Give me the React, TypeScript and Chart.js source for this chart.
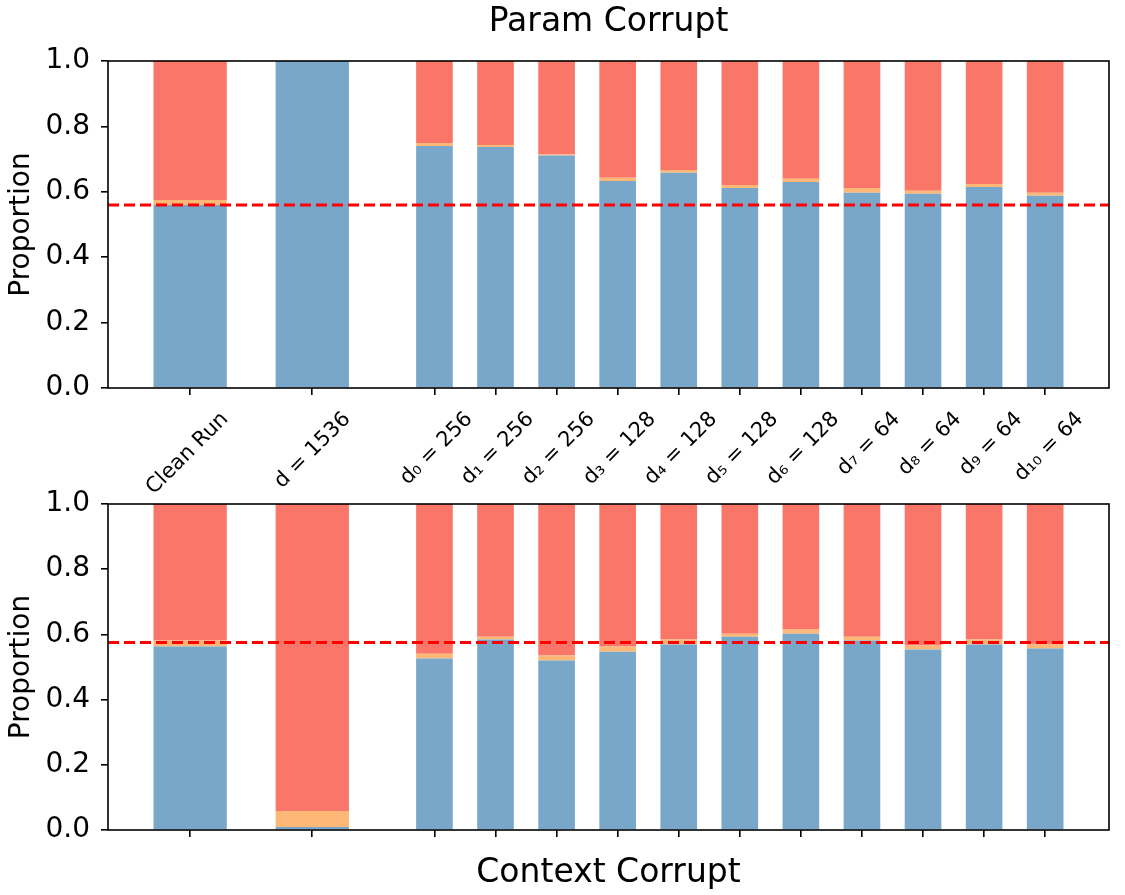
import React, { useEffect, useRef } from 'react';
import { Chart, registerables } from 'chart.js';

Chart.register(...registerables);

// ---------- data ----------
const CATEGORIES = [
  'Clean Run', 'd = 1536',
  'd₀ = 256', 'd₁ = 256', 'd₂ = 256',
  'd₃ = 128', 'd₄ = 128', 'd₅ = 128', 'd₆ = 128',
  'd₇ = 64', 'd₈ = 64', 'd₉ = 64', 'd₁₀ = 64',
];
const POSITIONS = [0, 2, 4, 5, 6, 7, 8, 9, 10, 11, 12, 13, 14];
const WIDE_COUNT = 2; // first two bars are the wide ones

// Param Corrupt (top)
const PARAM_CORRECT = [0.560, 1.000, 0.740, 0.737, 0.711, 0.633, 0.658, 0.612, 0.630, 0.597, 0.594, 0.615, 0.588];
const PARAM_OTHER = [0.015, 0.000, 0.009, 0.006, 0.003, 0.010, 0.009, 0.009, 0.010, 0.015, 0.009, 0.009, 0.009];
const PARAM_WRONG = [0.425, 0.000, 0.251, 0.257, 0.286, 0.357, 0.333, 0.379, 0.360, 0.388, 0.397, 0.376, 0.403];
const PARAM_BASELINE = 0.56;

// Context Corrupt (bottom)
const CONTEXT_CORRECT = [0.563, 0.009, 0.526, 0.584, 0.520, 0.547, 0.569, 0.593, 0.602, 0.581, 0.554, 0.569, 0.557];
const CONTEXT_OTHER = [0.018, 0.049, 0.015, 0.009, 0.015, 0.016, 0.015, 0.009, 0.013, 0.012, 0.012, 0.015, 0.012];
const CONTEXT_WRONG = [0.419, 0.942, 0.459, 0.407, 0.465, 0.437, 0.416, 0.398, 0.385, 0.407, 0.434, 0.416, 0.431];
const CONTEXT_BASELINE = 0.575;

const Y_TICKS = [0, 0.2, 0.4, 0.6, 0.8, 1.0];
const X_MIN = -1.345;
const X_MAX = 15.045;

// ---------- styles ----------
const BLUE = '#79A7CA';
const ORANGE = '#FDB777';
const RED = '#F97669';
const DASH_RED = '#FF0000';
const FONT = 'DejaVu Sans';

Chart.defaults.font.family = FONT;
Chart.defaults.color = '#000000';

const framePlugin = {
  id: 'frame',
  afterDraw(chart: any) {
    const { ctx, chartArea } = chart;
    ctx.save();
    ctx.strokeStyle = '#000000';
    ctx.lineWidth = 1.6;
    ctx.strokeRect(chartArea.left, chartArea.top, chartArea.right - chartArea.left, chartArea.bottom - chartArea.top);
    ctx.restore();
  },
};

function barSets(values: number[], color: string, label: string) {
  const pts = POSITIONS.map((x, i) => ({ x, y: values[i] }));
  return [
    {
      type: 'bar',
      label: label + ' (wide)',
      data: pts.slice(0, WIDE_COUNT),
      backgroundColor: color,
      borderWidth: 0,
      stack: 's',
      grouped: false,
      categoryPercentage: 1,
      barPercentage: 1.2,
      order: 1,
    },
    {
      type: 'bar',
      label: label,
      data: pts.slice(WIDE_COUNT),
      backgroundColor: color,
      borderWidth: 0,
      stack: 's',
      grouped: false,
      categoryPercentage: 1,
      barPercentage: 0.6,
      order: 1,
    },
  ];
}

function makeConfig(
  correct: number[], other: number[], wrong: number[], baseline: number,
  top: boolean,
) {
  const datasets: any[] = [
    {
      type: 'line',
      label: 'baseline',
      data: [{ x: X_MIN, y: baseline }, { x: X_MAX, y: baseline }],
      borderColor: DASH_RED,
      borderWidth: 3,
      borderDash: [11, 5],
      pointRadius: 0,
      fill: false,
      order: -1,
    },
    ...barSets(correct, BLUE, 'correct'),
    ...barSets(other, ORANGE, 'other'),
    ...barSets(wrong, RED, 'wrong'),
  ];
  const scales: any = {
    x: {
      type: 'linear',
      min: X_MIN,
      max: X_MAX,
      offset: false,
      stacked: true,
      afterBuildTicks: (scale: any) => {
        scale.ticks = POSITIONS.map((v) => ({ value: v }));
      },
      afterFit: (scale: any) => {
        scale.height = top ? 112 : 65;
      },
      grid: {
        offset: false,
        drawOnChartArea: false,
        drawTicks: true,
        tickLength: 7,
        color: '#000000',
        lineWidth: 1.6,
        tickWidth: 1.6,
      },
      border: { display: false },
      ticks: {
        display: top,
        autoSkip: false,
        minRotation: 45,
        maxRotation: 45,
        labelOffset: 35,
        padding: 12,
        color: '#000000',
        font: { family: FONT, size: 21 },
        callback: (_v: any, i: number) => CATEGORIES[i],
      },
      title: top
        ? { display: false }
        : {
            display: true,
            text: 'Context Corrupt',
            color: '#000000',
            font: { family: FONT, size: 33, lineHeight: 1.2 },
            padding: { top: 0, bottom: 2 },
          },
    },
    y: {
      type: 'linear',
      min: 0,
      max: 1,
      stacked: true,
      afterBuildTicks: (scale: any) => {
        scale.ticks = Y_TICKS.map((v) => ({ value: v }));
      },
      afterFit: (scale: any) => {
        scale.width = 108;
      },
      grid: {
        drawOnChartArea: false,
        drawTicks: true,
        tickLength: 7,
        color: '#000000',
        lineWidth: 1.6,
        tickWidth: 1.6,
      },
      border: { display: false },
      ticks: {
        padding: 11,
        color: '#000000',
        font: { family: FONT, size: 28 },
        callback: (v: any) => Number(v).toFixed(1),
      },
      title: {
        display: true,
        text: 'Proportion',
        color: '#000000',
        font: { family: FONT, size: 28, lineHeight: 1.2 },
        padding: { top: 5, bottom: 0 },
      },
    },
  };
  if (top) {
    scales.xTitle = {
      type: 'linear',
      position: 'top',
      min: X_MIN,
      max: X_MAX,
      offset: false,
      afterFit: (scale: any) => {
        scale.height = 61;
      },
      grid: { display: false, drawTicks: false },
      border: { display: false },
      ticks: { display: false },
      title: {
        display: true,
        text: 'Param Corrupt',
        color: '#000000',
        font: { family: FONT, size: 33, lineHeight: 1.2 },
        padding: { top: 3, bottom: 0 },
      },
    };
  }
  return {
    type: 'bar',
    data: { datasets },
    plugins: [framePlugin],
    options: {
      responsive: false,
      animation: false,
      devicePixelRatio: 1,
      layout: { padding: { left: 0, right: 16, top: top ? 0 : 44, bottom: 0 } },
      plugins: {
        legend: { display: false },
        tooltip: { enabled: false },
        title: { display: false },
      },
      scales,
    },
  };
}

export default function App() {
  const topRef = useRef<HTMLCanvasElement | null>(null);
  const botRef = useRef<HTMLCanvasElement | null>(null);

  useEffect(() => {
    document.body.style.margin = '0';
    const c1 = new Chart(topRef.current as any, makeConfig(PARAM_CORRECT, PARAM_OTHER, PARAM_WRONG, PARAM_BASELINE, true) as any);
    const c2 = new Chart(botRef.current as any, makeConfig(CONTEXT_CORRECT, CONTEXT_OTHER, CONTEXT_WRONG, CONTEXT_BASELINE, false) as any);
    return () => {
      c1.destroy();
      c2.destroy();
    };
  }, []);

  return (
    <div style={{ position: 'relative', width: 1125, height: 895, background: '#ffffff', overflow: 'hidden' }}>
      <canvas ref={botRef} width={1125} height={435} style={{ position: 'absolute', left: 0, top: 460, width: 1125, height: 435 }} />
      <canvas ref={topRef} width={1125} height={500} style={{ position: 'absolute', left: 0, top: 0, width: 1125, height: 500 }} />
    </div>
  );
}
